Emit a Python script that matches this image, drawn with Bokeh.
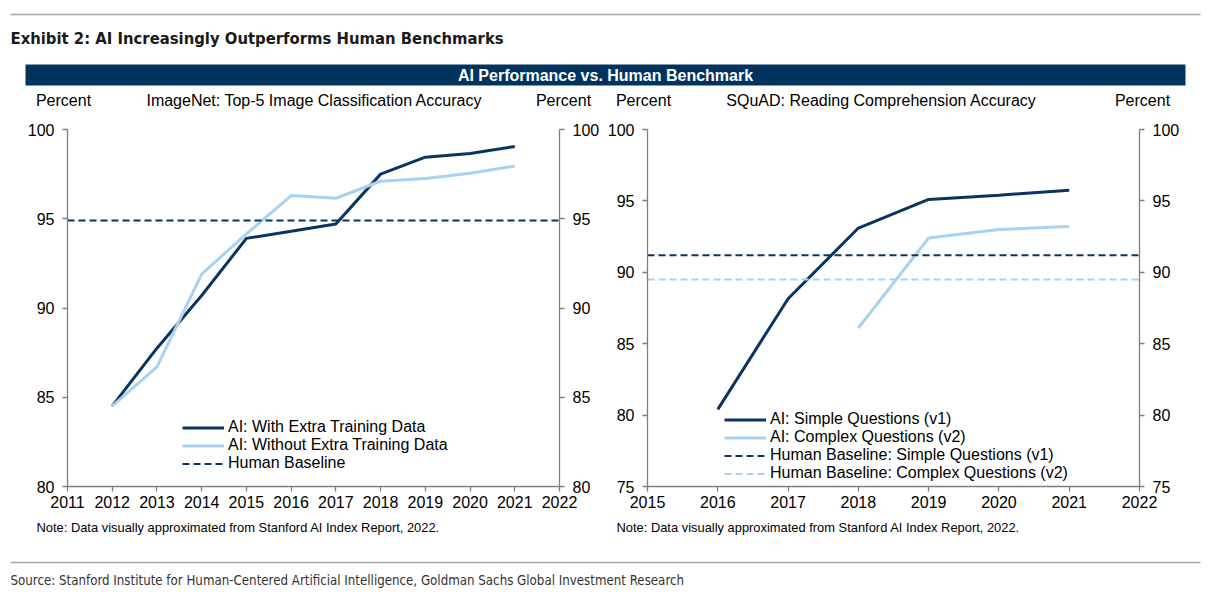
from bokeh.plotting import figure
from bokeh.layouts import column, row
from bokeh.models import Range1d, LinearAxis, FixedTicker, Legend, LegendItem, Label
from bokeh.embed import file_html
from bokeh.resources import INLINE

# ---------------- data ----------------
img_years = [2012, 2013, 2014, 2015, 2016, 2017, 2018, 2019, 2020, 2021]
img_with_extra = [84.5, 87.75, 90.7, 93.9, 94.3, 94.7, 97.5, 98.45, 98.65, 99.05]
img_without_extra = [84.5, 86.7, 91.9, 94.15, 96.3, 96.15, 97.1, 97.25, 97.55, 97.95]
img_human = 94.9
img_x_ticks = [2011, 2012, 2013, 2014, 2015, 2016, 2017, 2018, 2019, 2020, 2021, 2022]
img_y_ticks = [80, 85, 90, 95, 100]

squad_v1_years = [2016, 2017, 2018, 2019, 2020, 2021]
squad_v1 = [80.4, 88.15, 93.1, 95.1, 95.4, 95.75]
squad_v2_years = [2018, 2019, 2020, 2021]
squad_v2 = [86.1, 92.4, 93.0, 93.2]
squad_human_v1 = 91.2
squad_human_v2 = 89.5
squad_x_ticks = [2015, 2016, 2017, 2018, 2019, 2020, 2021, 2022]
squad_y_ticks = [75, 80, 85, 90, 95, 100]

TITLE = "Exhibit 2: AI Increasingly Outperforms Human Benchmarks"
BAR_TITLE = "AI Performance vs. Human Benchmark"
LEFT_SUB = "ImageNet: Top-5 Image Classification Accuracy"
RIGHT_SUB = "SQuAD: Reading Comprehension Accuracy"
Y_UNIT = "Percent"
NOTE = "Note: Data visually approximated from Stanford AI Index Report, 2022."
SOURCE = ("Source: Stanford Institute for Human-Centered Artificial Intelligence, "
          "Goldman Sachs Global Investment Research")

# ---------------- style ----------------
NAVY = "#0b3561"
LIGHT = "#a9d2f1"
AXIS_GRAY = "#7f7f7f"
RULE_GRAY = "#a6a6a6"
FONT = "Liberation Sans"
NARROW = "DejaVu Sans Condensed"

W_TOTAL = 1206
HEADER_H = 112
CHART_TOP = 112
CHART_H = 404
FOOTER_TOP = CHART_TOP + CHART_H
FOOTER_H = 76


def style_axis(ax, ticks, standoff):
    ax.ticker = FixedTicker(ticks=ticks)
    ax.axis_line_color = AXIS_GRAY
    ax.axis_line_width = 1.3
    ax.major_tick_line_color = AXIS_GRAY
    ax.major_tick_line_width = 1.3
    ax.major_tick_out = 5
    ax.major_tick_in = 0
    ax.minor_tick_line_color = None
    ax.major_label_text_font = FONT
    ax.major_label_text_font_size = "16px"
    ax.major_label_text_color = "#000000"
    ax.major_label_standoff = standoff


def make_chart(fig_x0, width, frame, xr, yr, xticks, yticks):
    L, R, T, B = frame
    p = figure(width=width, height=CHART_H,
               x_range=Range1d(*xr), y_range=Range1d(*yr),
               output_backend="svg", toolbar_location=None, title=None,
               min_border_left=L - fig_x0,
               min_border_right=fig_x0 + width - R,
               min_border_top=T - CHART_TOP,
               min_border_bottom=CHART_TOP + CHART_H - B)
    p.xgrid.visible = False
    p.ygrid.visible = False
    p.outline_line_color = None
    p.background_fill_color = "white"
    p.border_fill_color = "white"
    style_axis(p.xaxis[0], xticks, 4)
    style_axis(p.yaxis[0], yticks, 8)
    rax = LinearAxis()
    style_axis(rax, yticks, 8)
    p.add_layout(rax, "right")
    return p


def add_label(p, x, y, text, size, align="left", font=FONT, style="normal", color="#000000"):
    p.add_layout(Label(x=x, y=y, text=text, text_font=font, text_font_size=size,
                       text_font_style=style, text_align=align, text_baseline="middle",
                       text_color=color))


def make_legend(p, items, loc):
    leg = Legend(items=items, location=loc)
    leg.border_line_color = None
    leg.background_fill_alpha = 0
    leg.padding = 0
    leg.margin = 0
    leg.spacing = 0
    leg.label_height = 15
    leg.glyph_height = 15
    leg.glyph_width = 42
    leg.label_standoff = 4
    leg.label_text_font = FONT
    leg.label_text_font_size = "16px"
    leg.label_text_color = "#000000"
    p.add_layout(leg)


# ---------------- left chart: ImageNet ----------------
lp = make_chart(0, 603, (67, 559, 129, 486), (img_x_ticks[0], img_x_ticks[-1]),
                (img_y_ticks[0], img_y_ticks[-1]), img_x_ticks, img_y_ticks)
r1 = lp.line(img_years, img_with_extra, line_color=NAVY, line_width=3)
r2 = lp.line(img_years, img_without_extra, line_color=LIGHT, line_width=3)
r3 = lp.line([img_x_ticks[0], img_x_ticks[-1]], [img_human, img_human],
             line_color=NAVY, line_width=2, line_dash="7 4")
make_legend(lp, [LegendItem(label="AI: With Extra Training Data", renderers=[r1]),
                 LegendItem(label="AI: Without Extra Training Data", renderers=[r2]),
                 LegendItem(label="Human Baseline", renderers=[r3])], (115, 14))

# ---------------- right chart: SQuAD ----------------
rp = make_chart(603, 603, (647, 1139, 129, 486), (squad_x_ticks[0], squad_x_ticks[-1]),
                (squad_y_ticks[0], squad_y_ticks[-1]), squad_x_ticks, squad_y_ticks)
s1 = rp.line(squad_v1_years, squad_v1, line_color=NAVY, line_width=3)
s2 = rp.line(squad_v2_years, squad_v2, line_color=LIGHT, line_width=3)
s3 = rp.line([squad_x_ticks[0], squad_x_ticks[-1]], [squad_human_v1, squad_human_v1],
             line_color=NAVY, line_width=2, line_dash="7 4")
s4 = rp.line([squad_x_ticks[0], squad_x_ticks[-1]], [squad_human_v2, squad_human_v2],
             line_color=LIGHT, line_width=2, line_dash="7 4")
make_legend(rp, [LegendItem(label="AI: Simple Questions (v1)", renderers=[s1]),
                 LegendItem(label="AI: Complex Questions (v2)", renderers=[s2]),
                 LegendItem(label="Human Baseline: Simple Questions (v1)", renderers=[s3]),
                 LegendItem(label="Human Baseline: Complex Questions (v2)", renderers=[s4])],
            (77, 4))


# ---------------- header & footer (pixel-coordinate canvases) ----------------
def blank(height):
    p = figure(width=W_TOTAL, height=height, x_range=Range1d(0, W_TOTAL),
               y_range=Range1d(height, 0), output_backend="svg", toolbar_location=None,
               title=None, x_axis_location=None, y_axis_location=None,
               min_border_left=0, min_border_right=0, min_border_top=0, min_border_bottom=0)
    p.xgrid.visible = False
    p.ygrid.visible = False
    p.outline_line_color = None
    p.background_fill_color = "white"
    p.border_fill_color = "white"
    return p


hp = blank(HEADER_H)
hp.segment(x0=[10], y0=[14], x1=[1200], y1=[14], line_color=RULE_GRAY, line_width=1.5)
hp.quad(left=[25], right=[1185], top=[64], bottom=[85], fill_color="#00345f", line_color=None)
add_label(hp, 10, 38, TITLE, "16.5px", "left", NARROW, "bold", "#1a1a1a")
add_label(hp, 605, 75, BAR_TITLE, "16px", "center", FONT, "bold", "#ffffff")
add_label(hp, 63, 100, Y_UNIT, "16px", "center")
add_label(hp, 314, 100, LEFT_SUB, "16px", "center")
add_label(hp, 563, 100, Y_UNIT, "16px", "center")
add_label(hp, 643, 100, Y_UNIT, "16px", "center")
add_label(hp, 881, 100, RIGHT_SUB, "16px", "center")
add_label(hp, 1142, 100, Y_UNIT, "16px", "center")

fp = blank(FOOTER_H)
add_label(fp, 36, 527 - FOOTER_TOP, NOTE, "12.9px", "left")
add_label(fp, 616, 527 - FOOTER_TOP, NOTE, "12.9px", "left")
fp.segment(x0=[10], y0=[562 - FOOTER_TOP], x1=[1200], y1=[562 - FOOTER_TOP],
           line_color=RULE_GRAY, line_width=1.5)
add_label(fp, 10, 580 - FOOTER_TOP, SOURCE, "13.2px", "left", NARROW, "normal", "#333333")

layout = column(hp, row(lp, rp), fp)
open("out.html", "w").write(file_html(layout, INLINE))
